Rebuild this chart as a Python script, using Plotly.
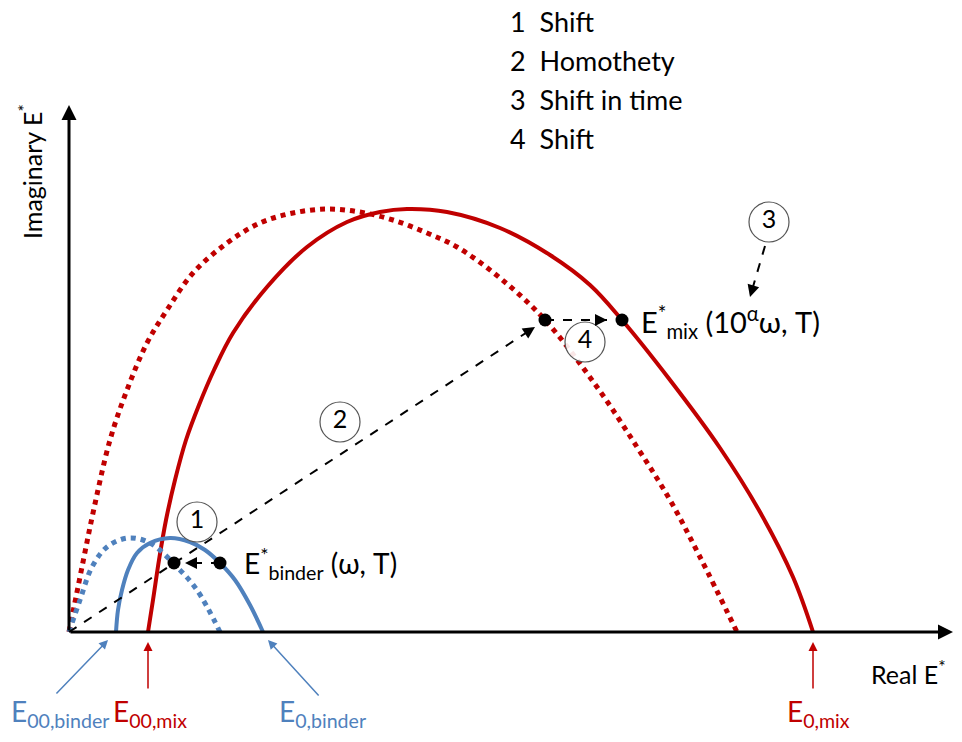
import plotly.graph_objects as go

# curves (units: px from the axis origin)
mix_solid_x = [79, 84, 90, 97, 106, 117, 130, 145, 164, 198, 238, 278, 311, 338, 378, 431, 481, 521, 553, 601, 651, 691, 724, 744]
mix_solid_y = [0, 32, 72, 112, 152, 192, 227, 262, 299, 345, 385, 410, 420, 423, 420, 404, 377, 347, 312, 252, 184, 120, 55, 0]

mix_dot_x = [0, 4, 9, 16, 24, 41, 58, 78, 98, 124, 158, 191, 224, 258, 291, 324, 358, 388, 431, 476, 528, 568, 601, 631, 668]
mix_dot_y = [0, 20, 45, 80, 119, 192, 242, 289, 322, 359, 389, 409, 419, 423, 420, 412, 399, 385, 354, 312, 245, 185, 132, 75, 0]

bin_solid_x = [47, 49, 53, 59, 68, 81, 101, 121, 136, 151, 166, 181, 194]
bin_solid_y = [0, 22, 42, 62, 79, 89, 94, 90, 82, 69, 52, 27, 0]

bin_dot_x = [0, 11, 23, 38, 59, 81, 108, 128, 151]
bin_dot_y = [0, 32, 65, 85, 94, 89, 65, 42, 0]

pts_x = [105, 151, 476, 553]
pts_y = [69, 69, 312, 312]

circle_lbl = ['1', '2', '3', '4']
circle_x = [128, 271, 700, 516]
circle_y = [110, 210, 410, 290]

legend_lines = ['1  Shift', '2  Homothety', '3  Shift in time', '4  Shift']

# dashed arrows: tail -> head
dash_tail_x = [0, 151, 476, 696]
dash_tail_y = [0, 69, 312, 386]
dash_head_x = [466, 116, 538, 681]
dash_head_y = [305, 69, 312, 335]

# bottom labels and their arrows
foot_lbl = ['E<sub>00,binder</sub>', 'E<sub>00,mix</sub>', 'E<sub>0,binder</sub>', 'E<sub>0,mix</sub>']
foot_col = ['blue', 'red', 'blue', 'red']
foot_lx = [-9, 81, 253, 749]
foot_tail_x = [-14, 79, 251, 744]
foot_tail_y = [-63, -58, -65, -58]
foot_head_x = [39, 79, 199, 744]
foot_head_y = [-8, -10, -8, -10]

RED = '#C00000'
BLUE = '#4F81BD'
COL = {'red': RED, 'blue': BLUE}
FONT = 'Lato'

fig = go.Figure()
fig.add_trace(go.Scatter(x=mix_dot_x, y=mix_dot_y, mode='lines', line=dict(color=RED, width=5, dash='dot', shape='spline')))
fig.add_trace(go.Scatter(x=mix_solid_x, y=mix_solid_y, mode='lines', line=dict(color=RED, width=4, shape='spline')))
fig.add_trace(go.Scatter(x=bin_dot_x, y=bin_dot_y, mode='lines', line=dict(color=BLUE, width=5, dash='dot', shape='spline')))
fig.add_trace(go.Scatter(x=bin_solid_x, y=bin_solid_y, mode='lines', line=dict(color=BLUE, width=4, shape='spline')))

for tx, ty, hx, hy in zip(dash_tail_x, dash_tail_y, dash_head_x, dash_head_y):
    fig.add_trace(go.Scatter(x=[tx, hx], y=[ty, hy], mode='lines', line=dict(color='black', width=2, dash='dash')))
    # short solid piece just to get an arrow head
    d = ((hx - tx) ** 2 + (hy - ty) ** 2) ** 0.5
    fig.add_annotation(x=hx, y=hy, ax=hx - (hx - tx) * 8 / d, ay=hy - (hy - ty) * 8 / d,
                       axref='x', ayref='y', xref='x', yref='y', text='', showarrow=True,
                       arrowhead=2, arrowsize=1.2, arrowwidth=2, arrowcolor='black', standoff=0)

fig.add_trace(go.Scatter(x=pts_x, y=pts_y, mode='markers', marker=dict(color='black', size=13)))

fig.add_trace(go.Scatter(x=circle_x, y=circle_y, mode='markers+text', text=circle_lbl,
                         textposition='middle center', textfont=dict(family=FONT, size=25, color='black'),
                         marker=dict(size=40, color='rgba(255,255,255,0.9)', line=dict(color='#555555', width=1.2))))

# axes drawn as arrows
fig.add_annotation(x=884, y=0, ax=0, ay=0, axref='x', ayref='y', text='', showarrow=True,
                   arrowhead=2, arrowsize=1, arrowwidth=3, arrowcolor='black')
fig.add_annotation(x=0, y=527, ax=0, ay=0, axref='x', ayref='y', text='', showarrow=True,
                   arrowhead=2, arrowsize=1, arrowwidth=3, arrowcolor='black')

for lbl, c, lx, tx, ty, hx, hy in zip(foot_lbl, foot_col, foot_lx, foot_tail_x, foot_tail_y, foot_head_x, foot_head_y):
    fig.add_annotation(x=hx, y=hy, ax=tx, ay=ty, axref='x', ayref='y', text='', showarrow=True,
                       arrowhead=2, arrowsize=1.2, arrowwidth=1.5, arrowcolor=COL[c])
    fig.add_annotation(x=lx, y=-81, text=lbl, showarrow=False, font=dict(family=FONT, size=28, color=COL[c]),
                       xanchor='center', yanchor='middle')

fig.add_annotation(x=173, y=69, text='E<sup>*</sup><sub>binder</sub> (\u03c9, T)', showarrow=False,
                   font=dict(family=FONT, size=28, color='black'), xanchor='left', yanchor='middle')
fig.add_annotation(x=570, y=310, text='E<sup>*</sup><sub>mix</sub> (10<sup>\u03b1</sup>\u03c9, T)', showarrow=False,
                   font=dict(family=FONT, size=29, color='black'), xanchor='left', yanchor='middle')

fig.add_annotation(x=800, y=-40, text='Real E<sup>*</sup>', showarrow=False,
                   font=dict(family=FONT, size=25, color='black'), xanchor='left', yanchor='middle')
fig.add_annotation(x=-39, y=460, text='Imaginary E<sup>*</sup>', showarrow=False, textangle=-90,
                   font=dict(family=FONT, size=25, color='black'), xanchor='center', yanchor='middle')

for i, line in enumerate(legend_lines):
    fig.add_annotation(x=439, y=611 - i * 39, text=line, showarrow=False,
                       font=dict(family=FONT, size=27, color='black'), xanchor='left', yanchor='middle')

# the page body has an 8px margin, so the figure is sized to the rest of the window
fig.update_layout(
    width=946, height=726,
    margin=dict(l=0, r=0, t=0, b=0),
    paper_bgcolor='white', plot_bgcolor='white',
    showlegend=False,
    xaxis=dict(range=[-61, 885], visible=False, fixedrange=True),
    yaxis=dict(range=[-102, 624], visible=False, fixedrange=True),
)

fig.write_html("out.html")
